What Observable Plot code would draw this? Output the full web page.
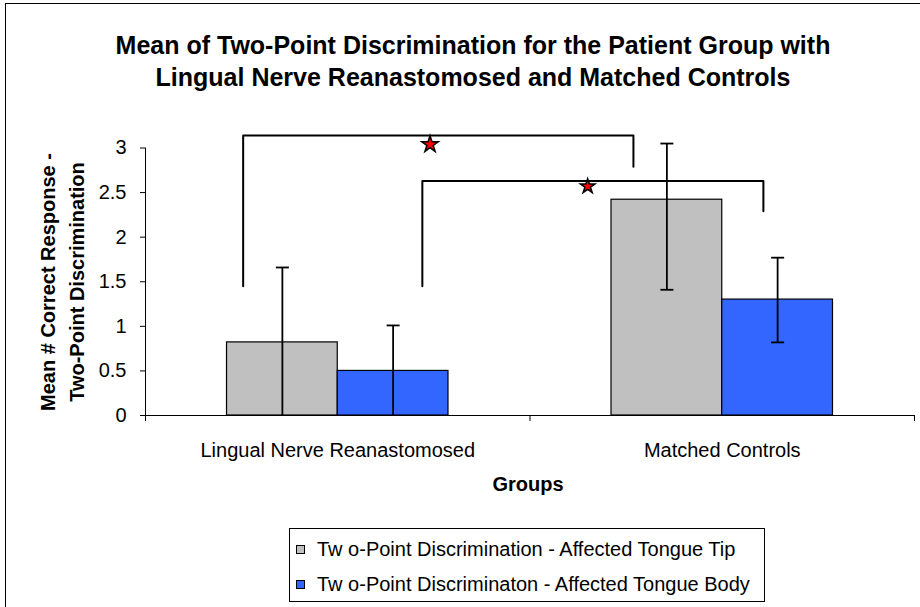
<!DOCTYPE html>
<html>
<head>
<meta charset="utf-8">
<script src="https://cdn.jsdelivr.net/npm/d3@7"></script>
<script src="https://cdn.jsdelivr.net/npm/@observablehq/plot@0.6"></script>
<style>
  body { margin: 0; background: #fff; }
  #wrap { position: relative; width: 920px; height: 607px; overflow: hidden; font-family: "Liberation Sans", Arial, sans-serif; color: #000; }
  #frame { position: absolute; left: 5px; top: 3px; width: 936px; height: 700px; border: 1.5px solid #000; box-sizing: border-box; }
  #title { position: absolute; left: 73px; width: 800px; top: 29px; text-align: center; font-weight: bold; font-size: 25px; line-height: 32px; }
  #ylabel { position: absolute; left: 63px; top: 282px; transform: translate(-50%, -50%) rotate(-90deg); text-align: center; font-weight: bold; font-size: 20px; line-height: 29px; white-space: nowrap; }
  #xlabel { position: absolute; left: 428px; width: 200px; top: 472px; text-align: center; font-weight: bold; font-size: 20px; line-height: 24px; }
  #legend { position: absolute; left: 289px; top: 528px; width: 476px; height: 74px; border: 1px solid #000; box-sizing: border-box; padding-top: 3px; }
  .row { height: 35px; display: flex; align-items: center; font-size: 20px; white-space: nowrap; }
  .sw { width: 7px; height: 7px; border: 1px solid #000; margin-left: 6px; margin-right: 12px; }
  #chart { position: absolute; left: 0; top: 0; }
</style>
</head>
<body>
<div id="wrap">
  <div id="frame"></div>
  <div id="chart"></div>
  <div id="title"></div>
  <div id="ylabel"></div>
  <div id="xlabel"></div>
  <div id="legend"></div>
</div>
<script>
// ---- data ----
const titleLines = ["Mean of Two-Point Discrimination for the Patient Group with", "Lingual Nerve Reanastomosed and Matched Controls"];
const yLabelLines = ["Mean # Correct Response -", "Two-Point Discrimination"];
const xLabel = "Groups";
const groups = ["Lingual Nerve Reanastomosed", "Matched Controls"];
const seriesNames = ["Tw o-Point Discrimination - Affected Tongue Tip", "Tw o-Point Discriminaton - Affected Tongue Body"];
const seriesColors = ["#C0C0C0", "#3366FF"];
const tipMean = [0.82, 2.42];
const tipLow = [null, 1.41];
const tipHigh = [1.66, 3.05];
const bodyMean = [0.50, 1.30];
const bodyLow = [null, 0.82];
const bodyHigh = [1.01, 1.77];
const yTicks = [0, 0.5, 1, 1.5, 2, 2.5, 3];
// significance brackets (x in category units, y in data units)
const bracketFrom = [0.254, 0.720];
const bracketTo = [1.269, 1.607];
const bracketTop = [3.14, 2.63];
const bracketLeftEnd = [1.45, 1.45];
const bracketRightEnd = [2.79, 2.29];
const starX = [0.740, 1.150];
const starY = [3.04, 2.57];
const starR = [5.2, 4.6];

// ---- build tables ----
const barW = 0.288;
const means = [tipMean, bodyMean], lows = [tipLow, bodyLow], highs = [tipHigh, bodyHigh];
const bars = [], errs = [], caps = [];
groups.forEach((g, i) => {
  [0, 1].forEach(s => {
    const c = i + 0.5;
    const x1 = s === 0 ? c - barW : c, x2 = s === 0 ? c : c + barW;
    const xm = (x1 + x2) / 2;
    bars.push({series: s, x1, x2, y: means[s][i]});
    const lo = lows[s][i], hi = highs[s][i];
    errs.push({x: xm, y1: lo == null ? 0 : lo, y2: hi});
    caps.push({x: xm, y: hi});
    if (lo != null) caps.push({x: xm, y: lo});
  });
});
const bracketPts = [];
bracketFrom.forEach((f, k) => {
  bracketPts.push({k, x: f, y: bracketLeftEnd[k]});
  bracketPts.push({k, x: f, y: bracketTop[k]});
  bracketPts.push({k, x: bracketTo[k], y: bracketTop[k]});
  bracketPts.push({k, x: bracketTo[k], y: bracketRightEnd[k]});
});
const stars = starX.map((x, k) => ({x, y: starY[k], r: starR[k]}));

const capSymbol = { draw(ctx) { ctx.moveTo(-6.5, 0); ctx.lineTo(6.5, 0); } };

const plot = Plot.plot({
  width: 920,
  height: 607,
  marginLeft: 145,
  marginRight: 6,
  marginTop: 147.5,
  marginBottom: 192,
  style: { fontFamily: "'Liberation Sans', Arial, sans-serif", fontSize: "20px", background: "transparent", overflow: "visible", color: "#000" },
  x: { domain: [0, 2] },
  y: { domain: [0, 3] },
  r: { type: "identity" },
  marks: [
    Plot.rect(bars.filter(d => d.series === 0), { x1: "x1", x2: "x2", y1: 0, y2: "y", fill: seriesColors[0], stroke: "#000", strokeWidth: 1.2 }),
    Plot.rect(bars.filter(d => d.series === 1), { x1: "x1", x2: "x2", y1: 0, y2: "y", fill: seriesColors[1], stroke: "#000", strokeWidth: 1.2 }),
    Plot.ruleX(errs, { x: "x", y1: "y1", y2: "y2", stroke: "#000", strokeWidth: 1.8 }),
    Plot.dot(caps, { x: "x", y: "y", symbol: capSymbol, stroke: "#000", strokeWidth: 1.8, fill: "none" }),
    Plot.ruleY([0], { x1: 0, x2: 2, stroke: "#000", strokeWidth: 1 }),
    Plot.ruleX([0], { y1: 0, y2: 3, stroke: "#000", strokeWidth: 1 }),
    Plot.axisY({ ticks: yTicks, tickSize: 5, tickPadding: 14, tickFormat: d => String(d), stroke: "#000" }),
    Plot.axisX({ ticks: [0, 1, 2], tickSize: 6, tickFormat: () => "", stroke: "#000" }),
    Plot.axisX({ ticks: [0.5, 1.5], tickSize: 0, tickPadding: 27, tickFormat: d => groups[Math.floor(d)] }),
    Plot.line(bracketPts, { x: "x", y: "y", z: "k", stroke: "#000", strokeWidth: 2 }),
    Plot.dot(stars, { x: "x", y: "y", r: "r", symbol: "star", fill: "#FF0000", stroke: "#000", strokeWidth: 1.5 })
  ]
});
document.getElementById("chart").appendChild(plot);

document.getElementById("title").innerHTML = titleLines.join("<br>");
document.getElementById("ylabel").innerHTML = yLabelLines.join("<br>");
document.getElementById("xlabel").textContent = xLabel;
const leg = document.getElementById("legend");
seriesNames.forEach((n, s) => {
  const row = document.createElement("div");
  row.className = "row";
  const sw = document.createElement("div");
  sw.className = "sw";
  sw.style.background = seriesColors[s];
  const t = document.createElement("span");
  t.textContent = n;
  row.appendChild(sw); row.appendChild(t);
  leg.appendChild(row);
});
</script>
</body>
</html>
